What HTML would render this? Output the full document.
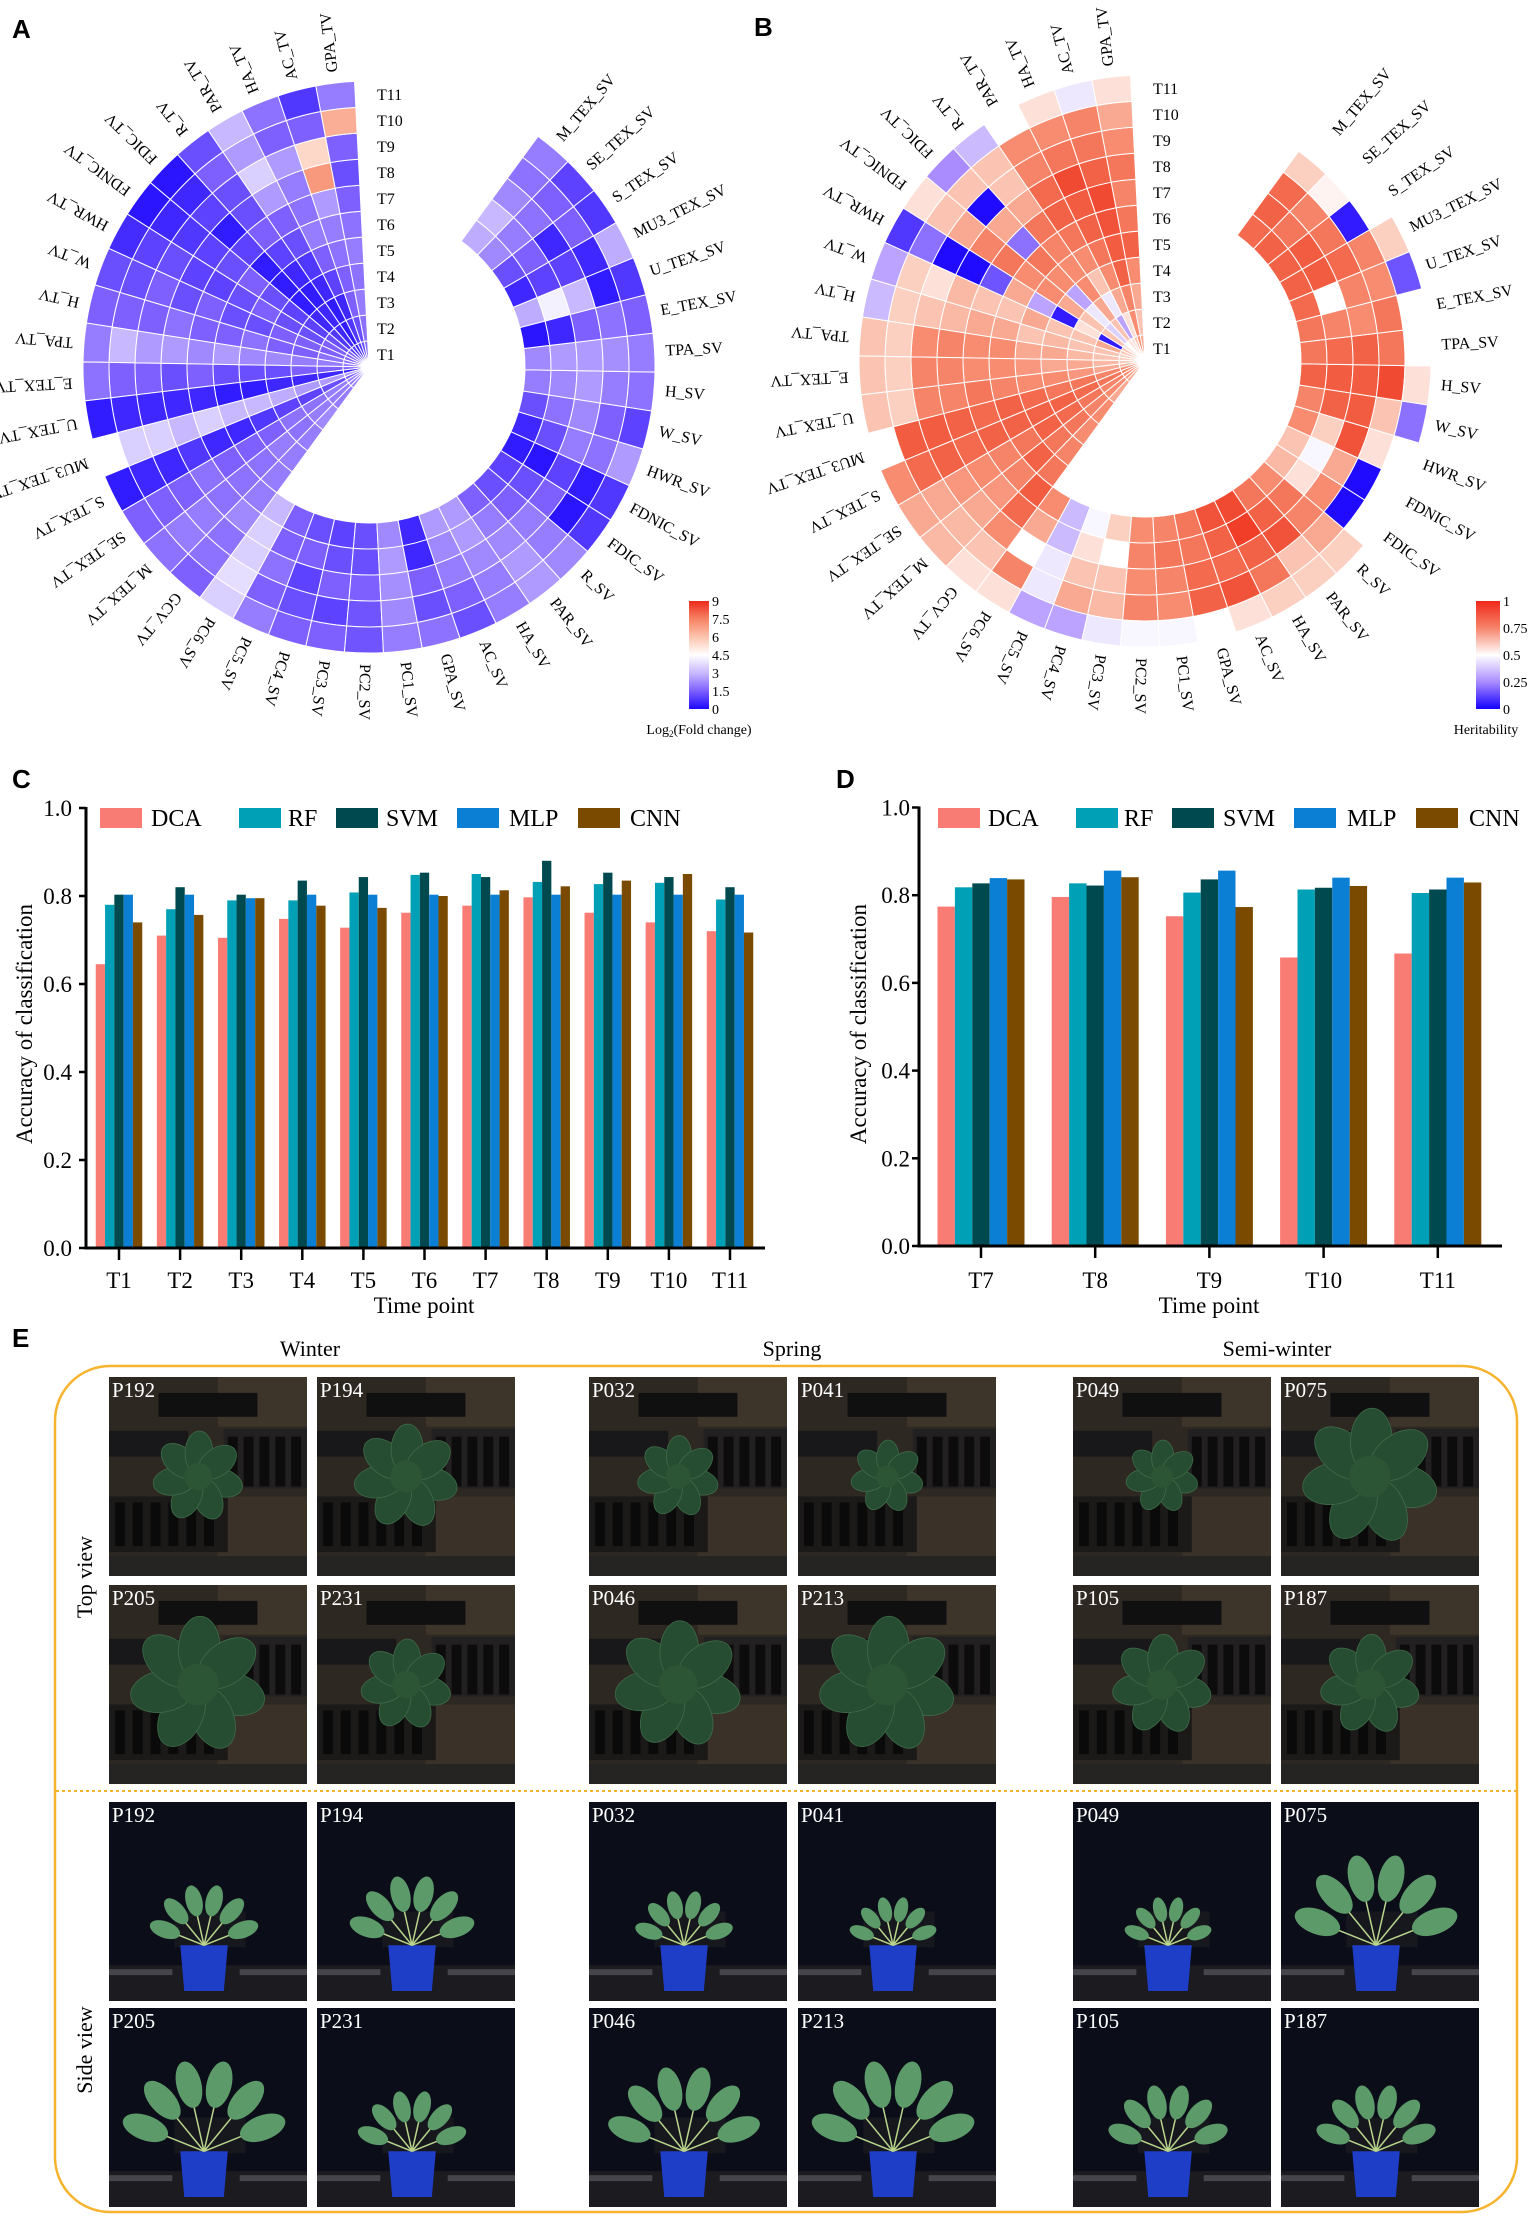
<!DOCTYPE html>
<html><head><meta charset="utf-8">
<style>
html,body{margin:0;padding:0;background:#fff;}
svg{display:block;}
text{font-family:"Liberation Serif",serif;}
.pl{font-family:"Liberation Sans",sans-serif;font-weight:bold;font-size:26px;}
</style></head>
<body>
<svg id="fig" xmlns="http://www.w3.org/2000/svg" width="1536" height="2218" viewBox="0 0 1536 2218">
<defs>
<linearGradient id="gA" x1="0" y1="1" x2="0" y2="0">
<stop offset="0" stop-color="#1e0aff"/><stop offset="0.167" stop-color="#7d60ff"/><stop offset="0.333" stop-color="#c8b8ff"/><stop offset="0.5" stop-color="#ffffff"/><stop offset="0.667" stop-color="#fcc4ae"/><stop offset="0.833" stop-color="#f68364"/><stop offset="1" stop-color="#ec2a1c"/>
</linearGradient>
<linearGradient id="gB" x1="0" y1="1" x2="0" y2="0">
<stop offset="0" stop-color="#1400ff"/><stop offset="0.25" stop-color="#aa8cff"/><stop offset="0.5" stop-color="#ffffff"/><stop offset="0.75" stop-color="#f6836a"/><stop offset="1" stop-color="#f02819"/>
</linearGradient>
</defs>
<text class="pl" x="12" y="38">A</text>
<text class="pl" x="754" y="36">B</text>
<text class="pl" x="12" y="788">C</text>
<text class="pl" x="836" y="788">D</text>
<text class="pl" x="12" y="1347">E</text>
<g id="gA_"></g>
<g id="gB_"></g>
<g id="gC_"></g>
<g id="gD_"></g>
<g id="gE_"></g>
</svg>
<script>
// ---------- data ----------
const sectorLabels = ["GPA_TV","AC_TV","HA_TV","PAR_TV","R_TV","FDIC_TV","FDNIC_TV","HWR_TV","W_TV","H_TV","TPA_TV","E_TEX_TV","U_TEX_TV","MU3_TEX_TV","S_TEX_TV","SE_TEX_TV","M_TEX_TV","GCV_TV",
"PC6_SV","PC5_SV","PC4_SV","PC3_SV","PC2_SV","PC1_SV","GPA_SV","AC_SV","HA_SV","PAR_SV","R_SV","FDIC_SV","FDNIC_SV","HWR_SV","W_SV","H_SV","TPA_SV","E_TEX_SV","U_TEX_SV","MU3_TEX_SV","S_TEX_SV","SE_TEX_SV","M_TEX_SV"];
const timeLabels = ["T1","T2","T3","T4","T5","T6","T7","T8","T9","T10","T11"];
// Panel A: log2 fold change; TV sectors T1..T11, SV sectors T7..T11
const foldTV = [
[1.8,1.8,2,1.8,2,1.8,1.5,1.2,1.5,6.5,2],
[1.2,1.2,1.5,1.5,1.8,2,2.5,7,5.5,1.5,0.8],
[0.8,0.8,0.5,1,1.5,2,1.8,2,2.5,1.5,1.8],
[0.5,0.3,0.3,0.5,0.8,1.2,1.5,2.5,3.5,2.5,3],
[0.8,0.5,0.5,0.3,0.5,1,1.5,1.2,1.2,1.5,1.2],
[1,0.8,0.5,0.3,0.3,0.3,1,0.3,1,0.5,0.2],
[1.5,1.2,1,1,1.2,1.5,1.2,1,0.8,0.5,0.2],
[1.5,1.5,1.2,1.2,1.5,1.2,1,1,1.2,1,0.6],
[1.5,1.5,1.5,1.5,1.2,1.2,1.5,1.2,1.5,1.2,1.2],
[1.8,1.8,1.5,1.5,1.8,1.5,1.5,1.8,1.5,1.5,1.5],
[2,2,2,2.2,2.2,2.5,2.2,2.5,2.5,3,2],
[1.5,1.5,1.5,1.2,1.2,1.2,1.5,1.2,1.5,1.5,1.8],
[0.3,0.5,0.5,0.5,0.3,0.3,0.5,0.5,0.5,0.5,0.3],
[2.5,2.5,2.5,2.8,3,3,3.5,3,3.5,3.5,4.5],
[1.5,1.2,1,1,0.8,0.5,0.5,0.8,0.5,0.5,0.3],
[2,2,1.8,1.8,1.5,1.5,1.5,1.8,1.5,1.5,1.5],
[2,2,2,1.8,2,1.8,1.8,1.8,2,2,1.8],
[2.2,2,2.2,2,2,2,2,2.2,1.8,1.8,1.5]];
const foldSV = [
[3,3.5,3.5,3.8,3.5],[1.5,1.5,1.8,1.5,2],[1.2,1.5,1,1.2,1.5],[1,1.2,1.5,1,1.5],[1.2,1.2,1.5,1.3,1.3],
[2.2,2.5,2.3,2.2,2],[0.5,0.5,1.5,1.2,1.8],[2.5,2.2,2,1.5,1.2],[2.5,2.5,2.2,2,2],[1.5,2,2.2,2.5,2.5],
[1.2,1.5,2,2,2.2],[1,1.2,1.5,0.2,0.8],[0.3,0.2,1,0.3,0.8],[0.5,1.2,2,1.8,2.5],[1.2,1.8,2.2,1.5,1],
[2,2.2,2.5,2,1.8],[2.2,2.5,2.5,2.3,2],[0.2,0.5,1.5,1.8,1.5],[2.8,4.2,3,0.3,0.8],[0.5,1,1,0.5,2.8],
[1.2,1.5,0.5,1.5,0.8],[2.2,2,1.8,1.5,1],[2.8,3,2.2,1.8,2]];
// Panel B: heritability
const heritTV = [
[.65,.6,.65,.7,.8,.75,.72,.75,.7,.65,.55],
[.7,.7,.72,.8,.82,.85,.88,.8,.75,.72,.45],
[.6,.55,.65,.7,.75,.8,.82,.88,.75,.7,.55],
[.55,.3,.45,.6,.7,.75,.8,.78,.72,.7,null],
[.55,.6,.65,.7,.7,.72,.75,.65,.6,.6,.35],
[.5,.4,.45,.3,.7,.75,.2,.65,.02,.6,.25],
[.55,.6,.6,.65,.7,.7,.75,.72,.65,.6,.55],
[.6,.05,.55,.05,.3,.65,.15,.02,.02,.2,.1],
[.6,.65,.6,.6,.65,.6,.6,.62,.55,.58,.3],
[.58,.6,.6,.62,.6,.65,.65,.62,.6,.58,.35],
[.58,.6,.62,.65,.65,.7,.7,.72,.7,.58,.6],
[.6,.62,.65,.65,.68,.7,.7,.72,.72,.58,.6],
[.62,.65,.68,.7,.7,.72,.75,.72,.72,.58,.6],
[.7,.72,.75,.75,.78,.8,.78,.8,.82,.82,null],
[.72,.75,.78,.8,.8,.8,.8,.78,.8,.78,.7],
[.7,.72,.75,.78,.8,.75,.72,.7,.68,.65,.65],
[.68,.7,.72,.75,.75,.8,.72,.68,.65,.62,.62],
[.65,.65,.7,.7,.72,.75,.82,.78,.7,.6,.55]];
const heritSV = [
[.7,.65,null,.72,.55],[.35,.35,.45,.45,.3],[.48,.55,.6,.65,.3],[.58,null,.6,.62,.45],[.7,.72,.7,.72,.48],
[.72,.75,.72,.7,.48],[.75,.75,.78,.8,null],[.85,.8,.78,.85,.55],[.88,.92,.8,.75,.58],[.75,.8,.85,.6,.58],
[.7,.75,.72,.65,.58],[.62,.55,.7,.02,null],[.6,.48,.65,.02,null],[.7,.58,.85,.55,null],[.72,.8,.82,.6,.2],
[.8,.82,.82,.88,.55],[.75,.78,.8,.75,null],[.75,.72,.7,.75,.5],[.78,.5,.72,.7,.15],[.8,.82,.78,.72,.58],
[.8,.82,.75,.05,null],[.8,.75,.72,.52,null],[.78,.8,.78,.58,null]];
// Panel C
const catC = ["T1","T2","T3","T4","T5","T6","T7","T8","T9","T10","T11"];
const dcaC = [0.645,0.71,0.705,0.748,0.728,0.762,0.778,0.797,0.762,0.74,0.72];
const rfC  = [0.78,0.77,0.79,0.79,0.808,0.848,0.85,0.832,0.827,0.83,0.792];
const svmC = [0.803,0.82,0.803,0.835,0.843,0.853,0.843,0.88,0.853,0.843,0.82];
const mlpC = [0.803,0.803,0.795,0.803,0.803,0.803,0.803,0.803,0.803,0.803,0.803];
const cnnC = [0.74,0.757,0.795,0.778,0.773,0.80,0.813,0.822,0.835,0.85,0.717];
// Panel D
const catD = ["T7","T8","T9","T10","T11"];
const dcaD = [0.774,0.796,0.752,0.658,0.667];
const rfD  = [0.818,0.827,0.806,0.813,0.805];
const svmD = [0.827,0.822,0.836,0.817,0.813];
const mlpD = [0.839,0.856,0.856,0.84,0.84];
const cnnD = [0.836,0.841,0.773,0.821,0.829];
const yTicks = [0,0.2,0.4,0.6,0.8,1.0];
const yTickLabels = ["0.0","0.2","0.4","0.6","0.8","1.0"];
const seriesNames = ["DCA","RF","SVM","MLP","CNN"];

const NS="http://www.w3.org/2000/svg";
function mk(parent,tag,attrs,txt){const e=document.createElementNS(NS,tag);for(const k in attrs)e.setAttribute(k,attrs[k]);if(txt!==undefined)e.textContent=txt;parent.appendChild(e);return e;}
function lerp(a,b,t){return a+(b-a)*t;}
function ramp(stops,v){for(let i=0;i<stops.length-1;i++){const [v0,c0]=stops[i],[v1,c1]=stops[i+1];if(v<=v1||i==stops.length-2){const t=Math.max(0,Math.min(1,(v-v0)/(v1-v0)));return "rgb("+[0,1,2].map(j=>Math.round(lerp(c0[j],c1[j],t))).join(",")+")";}}}
const stopsA=[[0,[30,10,255]],[1.5,[125,96,255]],[3,[200,184,255]],[4.5,[255,255,255]],[6,[252,196,174]],[7.5,[246,131,100]],[9,[236,42,28]]];
const stopsB=[[0,[20,0,255]],[0.25,[170,140,255]],[0.5,[255,255,255]],[0.6,[251,196,178]],[0.7,[247,140,112]],[0.8,[242,98,70]],[1,[238,38,22]]];

// ---------- polar heatmaps ----------
const NSEC=46, W=360/NSEC, TH0=-2.9, RW=26;
function pt(cx,cy,r,th){const a=th*Math.PI/180;return [cx+r*Math.sin(a),cy-r*Math.cos(a)];}
function cellPath(cx,cy,r0,r1,ta,tb){
  const p1=pt(cx,cy,r1,ta),p2=pt(cx,cy,r1,tb),p3=pt(cx,cy,r0,tb),p4=pt(cx,cy,r0,ta);
  let d="M"+p1[0].toFixed(2)+","+p1[1].toFixed(2)+" A"+r1+","+r1+" 0 0 0 "+p2[0].toFixed(2)+","+p2[1].toFixed(2);
  if(r0<=0.01) d+=" L"+cx+","+cy+" Z";
  else d+=" L"+p3[0].toFixed(2)+","+p3[1].toFixed(2)+" A"+r0+","+r0+" 0 0 1 "+p4[0].toFixed(2)+","+p4[1].toFixed(2)+" Z";
  return d;
}
function polar(g,cx,cy,tv,sv,stops,barX,ticks,tickLbl,title,isA){
  for(let k=0;k<sectorLabels.length;k++){
    const ta=TH0-k*W, tb=TH0-(k+1)*W;
    const vals = k<18 ? tv[k] : sv[k-18];
    const off = k<18 ? 0 : 6;
    for(let i=0;i<vals.length;i++){
      if(vals[i]===null) continue;
      const ring=i+off;
      const p=mk(g,"path",{d:cellPath(cx,cy,ring*RW,(ring+1)*RW,ta,tb),fill:ramp(stops,vals[i]),stroke:"#fff","stroke-width":"1"});
      
      
    }
    const tc=(ta+tb)/2, lp=pt(cx,cy,297,tc);
    const t=mk(g,"text",{x:lp[0].toFixed(1),y:lp[1].toFixed(1),"font-size":"16","dominant-baseline":"middle",transform:"rotate("+(tc-90).toFixed(2)+" "+lp[0].toFixed(1)+" "+lp[1].toFixed(1)+")"},sectorLabels[k]);
    
    
  }
  for(let i=0;i<timeLabels.length;i++){
    const t=mk(g,"text",{x:cx+8,y:cy-(i+0.5)*RW+6,"font-size":"16"},timeLabels[i]);
    
    
  }
  const cb=mk(g,"rect",{x:barX,y:601,width:isA?20:24,height:108,fill:isA?"url(#gA)":"url(#gB)"});
  
  
  for(let i=0;i<ticks.length;i++){
    const y=709-(ticks[i]/ticks[ticks.length-1])*108;
    const t=mk(g,"text",{x:barX+(isA?23:27),y:y+5,"font-size":"14"},tickLbl[i]);
    
    
  }
  const tt=mk(g,"text",{x:barX+(isA?10:10),y:734,"font-size":"14","text-anchor":"middle"});
  
  
  if(isA){tt.textContent="Log";mk(tt,"tspan",{"font-size":"9",dy:"3"},"2");mk(tt,"tspan",{dy:"-3"},"(Fold change)");}
  else tt.textContent=title;
}
polar(document.getElementById("gA_"),369,367,foldTV,foldSV,stopsA,689,[0,1.5,3,4.5,6,7.5,9],["0","1.5","3","4.5","6","7.5","9"],"",true);
polar(document.getElementById("gB_"),1145,361,heritTV,heritSV,stopsB,1476,[0,0.25,0.5,0.75,1],["0","0.25","0.5","0.75","1"],"Heritability",false);

// ---------- bar charts ----------
const colors=["#f87b74","#00a0b6","#004a4f","#0a7fd3","#7a4a00"];
function barChart(g,cats,series,x0,step,bw,axX,axR,y0,h,legX,legTX,titleX,tickLX,yTitleX){
  const yS=v=>y0-v*h, xS=i=>x0+i*step;
  for(let s=0;s<series.length;s++){
    for(let i=0;i<cats.length;i++){
      const v=series[s][i];
      const r=mk(g,"rect",{x:(xS(i)+(s-2.5)*bw).toFixed(2),y:yS(v).toFixed(2),width:bw.toFixed(2),height:(y0-yS(v)).toFixed(2),fill:colors[s]});
      
      
    }
    const lb=mk(g,"rect",{x:legX[s],y:808,width:42,height:20,fill:colors[s]});
    
    
    const lt=mk(g,"text",{x:legTX[s],y:826,"font-size":"24"},seriesNames[s]);
    
    
  }
  const ya=mk(g,"line",{x1:axX,y1:yS(1)-1,x2:axX,y2:y0+1,stroke:"#000","stroke-width":"3"});
  
  
  const xa=mk(g,"line",{x1:axX-1.5,y1:y0,x2:axR,y2:y0,stroke:"#000","stroke-width":"3"});
  
  
  for(let i=0;i<yTicks.length;i++){
    const y=yS(yTicks[i]);
    mk(g,"line",{x1:axX-7,y1:y,x2:axX,y2:y,stroke:"#000","stroke-width":"2.5"});
    const t=mk(g,"text",{x:tickLX,y:y+8,"font-size":"23","text-anchor":"end"},yTickLabels[i]);
    
    
  }
  for(let i=0;i<cats.length;i++){
    mk(g,"line",{x1:xS(i),y1:y0,x2:xS(i),y2:y0+12,stroke:"#000","stroke-width":"2.5"});
    const t=mk(g,"text",{x:xS(i),y:1288,"font-size":"23","text-anchor":"middle"},cats[i]);
    
    
  }
  const xt=mk(g,"text",{x:titleX,y:1313,"font-size":"23","text-anchor":"middle"},"Time point");
  
  
  const yt=mk(g,"text",{x:yTitleX,y:1024,"font-size":"23","text-anchor":"middle",transform:"rotate(-90 "+yTitleX+" 1024)"},"Accuracy of classification");
  
  
}
barChart(document.getElementById("gC_"),catC,[dcaC,rfC,svmC,mlpC,cnnC],119,61.1,9.3,86,765,1248,440,[100,239,336,457,578],[151,288,386,509,630],424,72,32);
barChart(document.getElementById("gD_"),catD,[dcaD,rfD,svmD,mlpD,cnnD],981,114.2,17.4,919,1502,1246,438.5,[938,1076,1172,1294,1416],[988,1124,1223,1347,1469],1209,910,866);

// ---------- panel E ----------
const gE=document.getElementById("gE_");
const frame=mk(gE,"rect",{x:55,y:1366,width:1462,height:846,rx:55,ry:55,fill:"none",stroke:"#f6b32e","stroke-width":"2.5"});


const dl=mk(gE,"line",{x1:56,y1:1791,x2:1516,y2:1791,stroke:"#f6b32e","stroke-width":"2","stroke-dasharray":"3 3"});


[["Winter",310],["Spring",792],["Semi-winter",1277]].forEach(([s,x])=>{
  const t=mk(gE,"text",{x:x,y:1356,"font-size":"22","text-anchor":"middle"},s);
  
  
});
[["Top view",1577],["Side view",2050]].forEach(([s,y])=>{
  const t=mk(gE,"text",{x:92,y:y,"font-size":"22","text-anchor":"middle",transform:"rotate(-90 92 "+y+")"},s);
  
  
});
const colX=[109,317,589,798,1073,1281], rowY=[1377,1585,1802,2008], PW=198, PH=199;
const ids=[["P192","P194","P032","P041","P049","P075"],["P205","P231","P046","P213","P105","P187"]];
const plantSize=[[0.2,0.23,0.18,0.16,0.16,0.3],[0.3,0.2,0.28,0.3,0.22,0.22]];
function topPhoto(g,x,y,s){
  mk(g,"rect",{x:x,y:y,width:PW,height:PH,fill:"#2e2822"});
  mk(g,"rect",{x:x+PW*0.55,y:y,width:PW*0.45,height:PH*0.25,fill:"#3d342a"});
  mk(g,"rect",{x:x+PW*0.55,y:y+PH*0.6,width:PW*0.45,height:PH*0.3,fill:"#3a3128"});
  mk(g,"rect",{x:x+PW*0.25,y:y+PH*0.08,width:PW*0.5,height:PH*0.12,fill:"#101010"});
  mk(g,"rect",{x:x,y:y+PH*0.27,width:PW*0.4,height:PH*0.13,fill:"#18181a"});
  mk(g,"rect",{x:x+PW*0.58,y:y+PH*0.26,width:PW*0.42,height:PH*0.3,fill:"#222020"});
  for(let i=0;i<5;i++) mk(g,"rect",{x:x+PW*(0.6+i*0.08),y:y+PH*0.3,width:PW*0.05,height:PH*0.25,fill:"#0c0c0c"});
  mk(g,"rect",{x:x,y:y+PH*0.6,width:PW*0.6,height:PH*0.28,fill:"#1b1a19"});
  for(let i=0;i<6;i++) mk(g,"rect",{x:x+PW*(0.03+i*0.09),y:y+PH*0.63,width:PW*0.05,height:PH*0.22,fill:"#0a0a0a"});
  mk(g,"rect",{x:x,y:y+PH*0.9,width:PW,height:PH*0.1,fill:"#252422"});
  const cx=x+PW*0.45, cy=y+PH*0.5, r=PW*s;
  for(let j=0;j<7;j++){
    const a=j*51.4+15, rad=a*Math.PI/180;
    const ex=cx+Math.cos(rad)*r*0.6, ey=cy+Math.sin(rad)*r*0.6;
    mk(g,"ellipse",{cx:ex,cy:ey,rx:r*0.55,ry:r*0.35,fill:"#264d31",stroke:"#3f6b48","stroke-width":"0.8",transform:"rotate("+a+" "+ex+" "+ey+")"});
  }
  mk(g,"circle",{cx:cx,cy:cy,r:r*0.35,fill:"#2b5535"});
}
function sidePhoto(g,x,y,s){
  mk(g,"rect",{x:x,y:y,width:PW,height:PH,fill:"#0b0d19"});
  mk(g,"rect",{x:x,y:y+PH*0.82,width:PW,height:PH*0.18,fill:"#1b1b20"});
  mk(g,"rect",{x:x,y:y+PH*0.84,width:PW*0.32,height:PH*0.03,fill:"#45454b"});
  mk(g,"rect",{x:x+PW*0.66,y:y+PH*0.84,width:PW*0.34,height:PH*0.03,fill:"#45454b"});
  mk(g,"rect",{x:x+PW*0.33,y:y+PH*0.55,width:PW*0.36,height:PH*0.18,fill:"#17171e"});
  const px=x+PW*0.48;
  mk(g,"path",{d:"M"+(px-PW*0.12)+","+(y+PH*0.72)+" L"+(px+PW*0.12)+","+(y+PH*0.72)+" L"+(px+PW*0.1)+","+(y+PH*0.95)+" L"+(px-PW*0.1)+","+(y+PH*0.95)+" Z",fill:"#1e3ec8"});
  const base=y+PH*0.72, r=PW*s;
  for(let j=0;j<6;j++){
    const a=-160+j*28, rad=a*Math.PI/180;
    const ex=px+Math.cos(rad)*r*1.0, ey=base+Math.sin(rad)*r*1.1;
    mk(g,"line",{x1:px,y1:base,x2:ex,y2:ey,stroke:"#b9d58c","stroke-width":"1.5"});
    mk(g,"ellipse",{cx:ex,cy:ey,rx:r*0.38,ry:r*0.2,fill:"#5c9a6a",transform:"rotate("+a+" "+ex+" "+ey+")"});
  }
}
for(let rr=0;rr<4;rr++){
  for(let c=0;c<6;c++){
    const g=mk(gE,"g",{});
    const id=ids[rr%2][c];
    
    
    const s=plantSize[rr%2][c];
    if(rr<2) topPhoto(g,colX[c],rowY[rr],s); else sidePhoto(g,colX[c],rowY[rr],s*1.05);
    const t=mk(g,"text",{x:colX[c]+3,y:rowY[rr]+20,"font-size":"21",fill:"#fff"},id);
    
    
  }
}
</script>
</body></html>
